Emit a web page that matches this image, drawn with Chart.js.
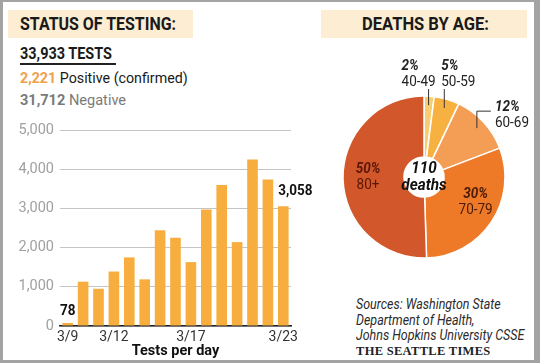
<!DOCTYPE html>
<html>
<head>
<meta charset="utf-8">
<script src="https://cdn.jsdelivr.net/npm/chart.js@4"></script>
<style>
  body { margin: 0; width: 540px; height: 363px; overflow: hidden; background: #fff;
         font-family: Roboto, sans-serif; color: #1a1a1a; }
  #frame { position: absolute; left: 0; top: 0; width: 540px; height: 363px; box-sizing: border-box;
           border-style: solid; border-color: #a3a3a3; border-width: 2px 6px 3px 3px; z-index: 5; pointer-events: none; }
  .band { position: absolute; top: 10px; height: 28px; background: #fcedd3; }
  .txt { position: absolute; white-space: nowrap; transform-origin: 0 0; }
  #barWrap { position: absolute; left: 3px; top: 110px; width: 330px; height: 250px; }
  #pieWrap { position: absolute; left: 314px; top: 57px; width: 220px; height: 240px; }
</style>
</head>
<body>
<div id="frame"></div>
<div class="band" style="left:8px;width:185px;"></div>
<div class="band" style="left:321px;width:206px;"></div>
<div class="txt" style="left:20px;top:12px;font-size:19px;font-weight:bold;transform:scaleX(0.84);">STATUS OF TESTING:</div>
<div class="txt" style="left:362px;top:12px;font-size:19px;font-weight:bold;transform:scaleX(0.87);">DEATHS BY AGE:</div>

<div class="txt" style="left:20px;top:44px;font-size:17px;font-weight:bold;transform:scaleX(0.85);line-height:18px;">33,933 TESTS</div>
<div style="position:absolute;left:20px;top:63px;width:96px;height:1.5px;background:#222;"></div>
<div class="txt" style="left:20px;top:69px;font-size:15px;transform:scaleX(0.95);"><b style="color:#f0a04b">2,221</b> Positive (confirmed)</div>
<div class="txt" style="left:20px;top:91px;font-size:15px;color:#7a7a7a;transform:scaleX(0.97);"><b>31,712</b> Negative</div>

<div class="txt" style="left:356px;top:297px;font-size:14px;font-style:italic;line-height:15.5px;color:#2a2a2a;transform:scaleX(0.89);">Sources: Washington State<br>Department of Health,<br>Johns Hopkins University CSSE</div>
<div class="txt" style="left:356px;top:344px;font-size:12.5px;font-family:'Liberation Serif',serif;font-weight:bold;letter-spacing:0.3px;color:#222;">THE SEATTLE TIMES</div>

<div id="barWrap"><canvas id="barChart"></canvas></div>
<div id="pieWrap"><canvas id="pieChart"></canvas></div>

<script>
var days = ["3/9", "3/10", "3/11", "3/12", "3/13", "3/14", "3/15", "3/16", "3/17", "3/18", "3/19", "3/20", "3/21", "3/22", "3/23"];
var testsPerDay = [78, 1130, 950, 1390, 1750, 1190, 2440, 2250, 1630, 2975, 3595, 2140, 4245, 3740, 3058];
var shownDays = ["3/9", "3/12", "3/17", "3/23"];
var yTicks = [0, 1000, 2000, 3000, 4000, 5000];

var ageGroups = ["40-49", "50-59", "60-69", "70-79", "80+"];
var agePercents = [2, 5, 12, 30, 50];
var ageColors = ["#f8cd72", "#f6b140", "#f49e55", "#ee7a27", "#d2582b"];
var totalDeaths = 110;

var font = "Roboto, sans-serif";

// narrow text helper (the original uses a condensed face)
function narrowText(ctx, s, x, y, k) {
  ctx.save();
  ctx.translate(x, y);
  ctx.scale(k, 1);
  ctx.fillText(s, 0, 0);
  ctx.restore();
}

// labels on first and last bar
var barLabels = {
  id: "barLabels",
  afterDatasetsDraw: function(chart) {
    var ctx = chart.ctx;
    var bars = chart.getDatasetMeta(0).data;
    ctx.save();
    ctx.fillStyle = "#111";
    ctx.font = "bold 15px " + font;
    ctx.textBaseline = "bottom";
    var first = bars[0], last = bars[bars.length - 1];
    ctx.textAlign = "center";
    narrowText(ctx, testsPerDay[0].toLocaleString("en-US"), first.x, first.y - 4, 0.9);
    ctx.textAlign = "left";
    narrowText(ctx, testsPerDay[testsPerDay.length - 1].toLocaleString("en-US"), last.x - 5, last.y - 7, 0.9);
    ctx.restore();
  }
};

new Chart(document.getElementById("barChart"), {
  type: "bar",
  data: {
    labels: days,
    datasets: [{
      data: testsPerDay,
      backgroundColor: "#f7ae3f",
      barPercentage: 0.69,
      categoryPercentage: 1
    }]
  },
  plugins: [barLabels],
  options: {
    responsive: true,
    maintainAspectRatio: false,
    animation: false,
    layout: { padding: { left: 0, right: 42, top: 20, bottom: 0 } },
    plugins: { legend: { display: false }, tooltip: { enabled: false } },
    scales: {
      x: {
        grid: { display: false, drawTicks: false },
        border: { color: "#222", width: 1.5 },
        ticks: {
          autoSkip: false, maxRotation: 0, padding: 3, color: "#333",
          font: { family: font, size: 14 },
          callback: function(v, i) { return shownDays.indexOf(days[i]) >= 0 ? days[i] : ""; }
        },
        title: { display: true, text: "Tests per day", color: "#111", padding: { top: 0, bottom: 0 },
                 font: { family: font, size: 14.5, weight: "bold" } },
        afterFit: function(axis) { axis.height = 34; }
      },
      y: {
        min: 0, max: 5000,
        border: { display: false },
        grid: { color: "#c4c4c4", drawTicks: false, lineWidth: 1 },
        afterBuildTicks: function(axis) { axis.ticks = yTicks.map(function(v) { return { value: v }; }); },
        ticks: {
          padding: 6, color: "#a0a0a0",
          font: { family: font, size: 14.5 },
          callback: function(v) { return v.toLocaleString("en-US"); }
        },
        afterFit: function(axis) { axis.width = 57; }
      }
    }
  }
});

// slice labels and centre text
var pieLabels = {
  id: "pieLabels",
  afterDatasetsDraw: function(chart) {
    var ctx = chart.ctx;
    var arcs = chart.getDatasetMeta(0).data;
    var cx = arcs[0].x, cy = arcs[0].y;
    ctx.save();
    ctx.textBaseline = "middle";

    function pt(arc, r) {
      var a = (arc.startAngle + arc.endAngle) / 2;
      return { x: cx + r * Math.cos(a), y: cy + r * Math.sin(a) };
    }
    function two(pct, age, x, y, align, color) {
      ctx.textAlign = align;
      ctx.fillStyle = color;
      ctx.font = "italic bold 15px " + font;
      narrowText(ctx, pct + "%", x, y, 0.9);
      ctx.font = "15px " + font;
      narrowText(ctx, age, x, y + 16, 0.9);
    }

    ctx.strokeStyle = "#333";
    ctx.lineWidth = 1;
    // 40-49 and 50-59: short vertical leaders up to a common label row
    var top = cy - 88;
    for (var i = 0; i < 2; i++) {
      var p = pt(arcs[i], 72);
      ctx.beginPath();
      ctx.moveTo(p.x, p.y);
      ctx.lineTo(p.x, top);
      ctx.stroke();
      two(agePercents[i], ageGroups[i], i === 0 ? p.x - 27 : p.x - 3, top - 23, "left", "#222");
    }
    // 60-69: elbow leader
    var q = pt(arcs[2], 72);
    ctx.beginPath();
    ctx.moveTo(q.x, q.y);
    ctx.lineTo(q.x, q.y - 17);
    ctx.lineTo(q.x + 14, q.y - 17);
    ctx.stroke();
    two(agePercents[2], ageGroups[2], q.x + 18, q.y - 21, "left", "#222");
    // inside labels
    var r3 = pt(arcs[3], 56);
    two(agePercents[3], ageGroups[3], r3.x + 5, r3.y - 14, "center", "#4a1a08");
    var r4 = pt(arcs[4], 56);
    two(agePercents[4], ageGroups[4], r4.x, r4.y - 9, "center", "#5a1608");

    ctx.textAlign = "center";
    ctx.fillStyle = "#111";
    ctx.font = "italic bold 17px " + font;
    narrowText(ctx, String(totalDeaths), cx, cy - 8, 0.9);
    narrowText(ctx, "deaths", cx, cy + 9, 0.9);
    ctx.restore();
  }
};

new Chart(document.getElementById("pieChart"), {
  type: "doughnut",
  data: {
    labels: ageGroups,
    datasets: [{
      data: agePercents,
      backgroundColor: ageColors,
      borderColor: "#fff",
      borderWidth: 1.5,
      radius: 81,
      cutout: 27
    }]
  },
  plugins: [pieLabels],
  options: {
    responsive: true,
    maintainAspectRatio: false,
    animation: false,
    plugins: { legend: { display: false }, tooltip: { enabled: false } }
  }
});
</script>
</body>
</html>
